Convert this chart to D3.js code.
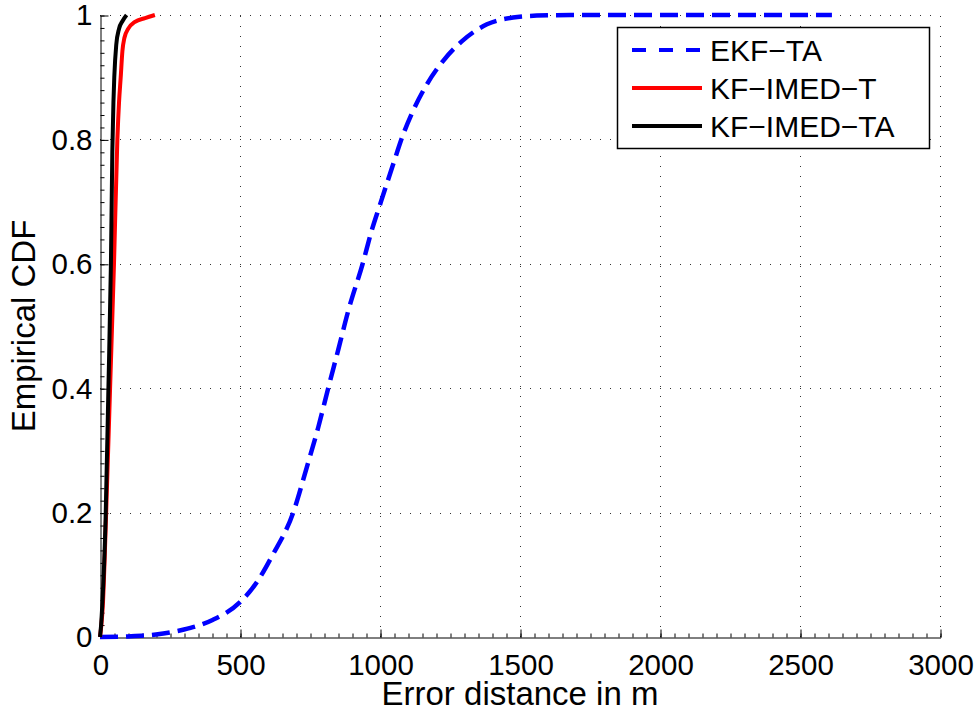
<!DOCTYPE html>
<html>
<head>
<meta charset="utf-8">
<script src="https://cdn.jsdelivr.net/npm/d3@7"></script>
<style>
  body { margin: 0; background: #fff; }
  text { font-family: Arial, "Liberation Sans", Helvetica, sans-serif; fill: #000; }
</style>
</head>
<body>
<svg id="chart"></svg>
<script>
// Données (erreur en m, CDF empirique)
const errEkfTa = [0, 100, 200, 300, 400, 500, 560, 613, 690, 738, 780, 815, 851, 887, 938, 970, 1000, 1047, 1082, 1118, 1168, 1225, 1293, 1382, 1475, 1560, 1700, 2614];
const cdfEkfTa = [0, 0.001, 0.004, 0.012, 0.027, 0.056, 0.088, 0.129, 0.2, 0.272, 0.338, 0.4, 0.462, 0.525, 0.6, 0.653, 0.695, 0.76, 0.807, 0.846, 0.889, 0.926, 0.958, 0.985, 0.996, 0.999, 1, 1];

const errImedT = [0, 5, 10, 22, 36, 50, 62, 68, 74, 80, 87, 101, 125, 161, 196];
const cdfImedT = [0, 0.02, 0.05, 0.2, 0.4, 0.6, 0.8, 0.86, 0.9, 0.942, 0.963, 0.978, 0.989, 0.995, 1];

const errImedTa = [0, 4, 8, 20, 30, 39, 44, 48, 51, 58, 68, 80, 95];
const cdfImedTa = [0, 0.02, 0.05, 0.19, 0.4, 0.6, 0.78, 0.86, 0.9, 0.952, 0.978, 0.99, 1];

const xTicks = [0, 500, 1000, 1500, 2000, 2500, 3000];
const yTicks = [0, 0.2, 0.4, 0.6, 0.8, 1];
const seriesNames = ["EKF\u2212TA", "KF\u2212IMED\u2212T", "KF\u2212IMED\u2212TA"];
const seriesColors = ["#0000ff", "#ff0000", "#000000"];

// Dimensions de la scène
const width = 980, height = 714;
const svg = d3.select("#chart").attr("width", width).attr("height", height);

const x = d3.scaleLinear().domain([0, 3000]).range([100, 940]);
const y = d3.scaleLinear().domain([0, 1]).range([637, 15]);

// Grille pointillée
const grid = svg.append("g").attr("stroke", "#333").attr("stroke-width", 1).attr("stroke-dasharray", "1,9");
xTicks.filter(d => d > 0).forEach(d => {
    grid.append("line")
        .attr("x1", Math.round(x(d)) + 0.5).attr("x2", Math.round(x(d)) + 0.5)
        .attr("y1", y(0)).attr("y2", y(1));
});
yTicks.filter(d => d > 0).forEach(d => {
    grid.append("line")
        .attr("x1", x(0)).attr("x2", x(3000))
        .attr("y1", Math.round(y(d)) + 0.5).attr("y2", Math.round(y(d)) + 0.5);
});

// Graduations secondaires
svg.append("g").attr("transform", "translate(0.5,637.5)")
    .call(d3.axisBottom(x).tickValues(d3.range(0, 3001, 50)).tickSizeInner(-4).tickSizeOuter(0).tickFormat(""))
    .call(g => g.select(".domain").remove());
svg.append("g").attr("transform", "translate(100.5,0.5)")
    .call(d3.axisLeft(y).tickValues(d3.range(0, 51).map(i => i / 50)).tickSizeInner(-4).tickSizeOuter(0).tickFormat(""))
    .call(g => g.select(".domain").remove());

// Axes principaux
const xAxis = svg.append("g").attr("transform", "translate(0.5,637.5)")
    .call(d3.axisBottom(x).tickValues(xTicks).tickSizeInner(-8).tickSizeOuter(0).tickPadding(17).tickFormat(d3.format("d")));
const yAxis = svg.append("g").attr("transform", "translate(100.5,0.5)")
    .call(d3.axisLeft(y).tickValues(yTicks).tickSizeInner(-8).tickSizeOuter(0).tickPadding(8).tickFormat(d3.format("~g")));
[xAxis, yAxis].forEach(a => {
    a.selectAll("text").style("font-size", "29.5px");
    a.select(".domain").attr("stroke", "#000");
});

// Courbes
const line = d3.line().x(d => x(d[0])).y(d => y(d[1])).curve(d3.curveMonotoneX);
const series = [
    d3.zip(errEkfTa, cdfEkfTa),
    d3.zip(errImedT, cdfImedT),
    d3.zip(errImedTa, cdfImedTa)
];
series.forEach((pts, i) => {
    svg.append("path")
        .attr("d", line(pts))
        .attr("fill", "none")
        .attr("stroke", seriesColors[i])
        .attr("stroke-width", i === 0 ? 4.5 : 4)
        .attr("stroke-dasharray", i === 0 ? "18,8" : null)
        .attr("stroke-linejoin", "round");
});

// Titres des axes
svg.append("text")
    .attr("x", 520).attr("y", 705)
    .attr("text-anchor", "middle")
    .style("font-size", "33px")
    .text("Error distance in m");
svg.append("text")
    .attr("transform", "translate(35,326) rotate(-90)")
    .attr("text-anchor", "middle")
    .style("font-size", "33px")
    .text("Empirical CDF");

// Légende
const legend = svg.append("g");
legend.append("rect")
    .attr("x", 617.5).attr("y", 27.5).attr("width", 312).attr("height", 121)
    .attr("fill", "#fff").attr("stroke", "#000").attr("stroke-width", 1.5);
seriesNames.forEach((name, i) => {
    const cy = 50 + i * 38;
    legend.append("line")
        .attr("x1", 632).attr("x2", 702).attr("y1", cy).attr("y2", cy)
        .attr("stroke", seriesColors[i])
        .attr("stroke-width", 4)
        .attr("stroke-dasharray", i === 0 ? "14,13" : null);
    legend.append("text")
        .attr("x", 710).attr("y", cy)
        .attr("dy", "0.36em")
        .style("font-size", "30px")
        .text(name);
});
</script>
</body>
</html>
